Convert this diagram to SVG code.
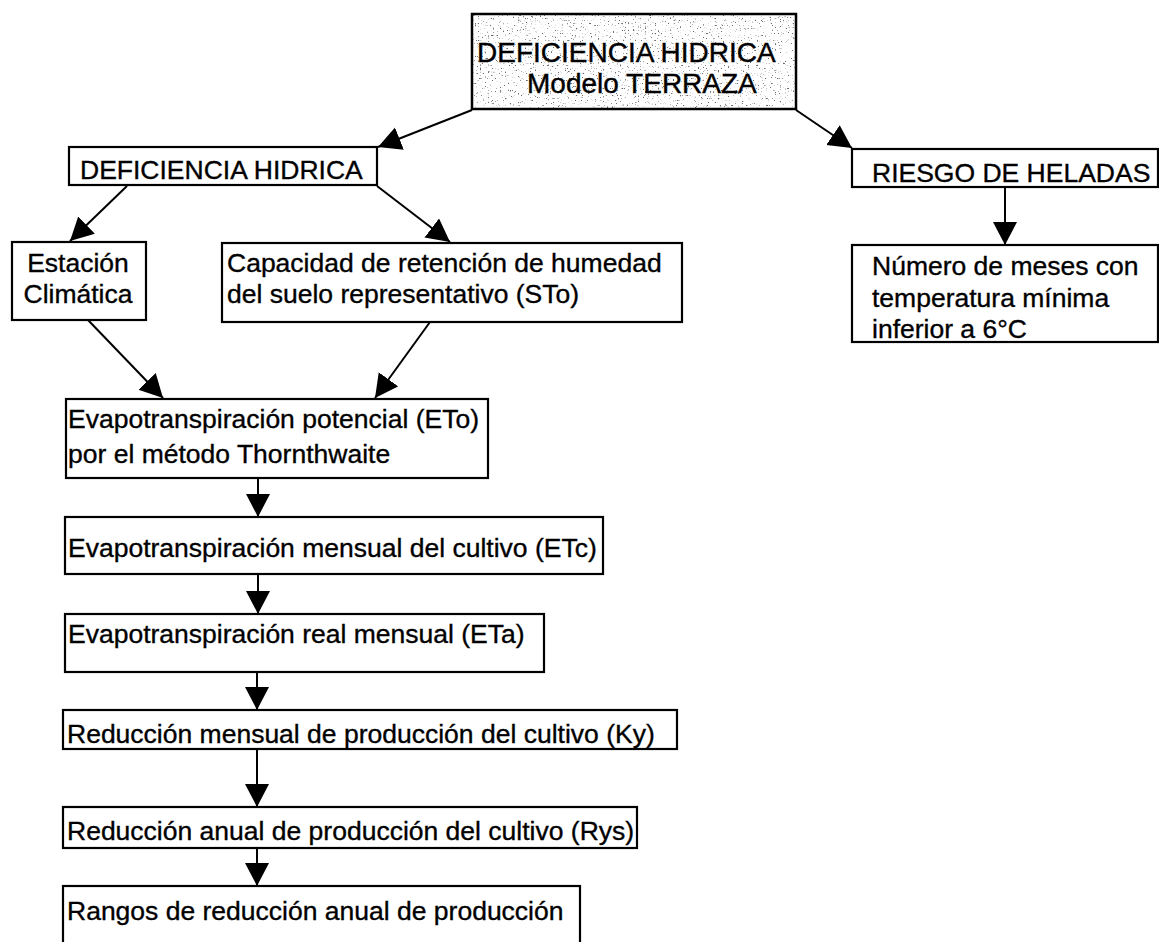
<svg xmlns="http://www.w3.org/2000/svg" width="1159" height="942" viewBox="0 0 1159 942">
  <style>
    .box { fill: #ffffff; stroke: #000000; stroke-width: 2.2; }
    .lbl { font-family: "Liberation Sans", Arial, sans-serif; font-size: 26.5px; fill: #000000; stroke: #000000; stroke-width: 0.35px; }
    .ttl { font-family: "Liberation Sans", Arial, sans-serif; font-size: 28px; fill: #000000; stroke: #000000; stroke-width: 0.4px; }
    .edge { stroke: #000000; stroke-width: 2; fill: none; marker-end: url(#head); }
  </style>
  <defs>
    <marker id="head" markerUnits="userSpaceOnUse" markerWidth="26" markerHeight="26" refX="23" refY="12" orient="auto">
      <path d="M0,0 L23,12 L0,24 Z" fill="#000000"/>
    </marker>
    <!-- speckled grey fill for the title box -->
    <filter id="grain" filterUnits="objectBoundingBox" x="0" y="0" width="1" height="1">
      <feTurbulence type="fractalNoise" baseFrequency="0.6" numOctaves="2" seed="11" result="noise"/>
      <feColorMatrix in="noise" type="matrix" values="0 0 0 0 0.15  0 0 0 0 0.15  0 0 0 0 0.15  8 0 0 0 -5.1" result="specks"/>
      <feComposite in="specks" in2="SourceGraphic" operator="over"/>
    </filter>
  </defs>

  <rect width="1159" height="942" fill="#ffffff"/>

  <!-- connectors -->
  <g id="connectors">
    <line class="edge" x1="472" y1="110" x2="378" y2="147"/>
    <line class="edge" x1="796" y1="110" x2="852" y2="148"/>
    <line class="edge" x1="127" y1="186" x2="70" y2="241"/>
    <line class="edge" x1="377" y1="186" x2="450" y2="242"/>
    <line class="edge" x1="88" y1="320" x2="163" y2="398"/>
    <line class="edge" x1="430" y1="322" x2="375" y2="398"/>
    <line class="edge" x1="1005" y1="187" x2="1005" y2="245"/>
    <line class="edge" x1="258" y1="478" x2="258" y2="517"/>
    <line class="edge" x1="258" y1="574" x2="258" y2="614"/>
    <line class="edge" x1="257" y1="672" x2="257" y2="710"/>
    <line class="edge" x1="257" y1="749" x2="257" y2="807"/>
    <line class="edge" x1="257" y1="848" x2="257" y2="886"/>
  </g>

  <!-- title -->
  <g id="n-title">
    <rect x="472" y="14" width="324" height="95" fill="#ffffff" filter="url(#grain)"/>
    <rect x="472" y="14" width="324" height="95" fill="none" stroke="#000000" stroke-width="2.5"/>
    <text class="ttl" x="477" y="62">DEFICIENCIA HIDRICA</text>
    <text class="ttl" x="527" y="93">Modelo TERRAZA</text>
  </g>

  <g id="n-deficiencia">
    <rect class="box" x="69" y="147" width="308" height="38"/>
    <text class="lbl" x="80" y="179">DEFICIENCIA HIDRICA</text>
  </g>

  <g id="n-riesgo">
    <rect class="box" x="852" y="149" width="306" height="38"/>
    <text class="lbl" x="872" y="182">RIESGO DE HELADAS</text>
  </g>

  <g id="n-estacion">
    <rect class="box" x="12" y="242" width="134" height="78"/>
    <text class="lbl" x="78" y="272" text-anchor="middle">Estación</text>
    <text class="lbl" x="78" y="303" text-anchor="middle">Climática</text>
  </g>

  <g id="n-capacidad">
    <rect class="box" x="222" y="243" width="460" height="79"/>
    <text class="lbl" x="227" y="272">Capacidad de retención de humedad</text>
    <text class="lbl" x="227" y="303">del suelo representativo (STo)</text>
  </g>

  <g id="n-meses">
    <rect class="box" x="852" y="245" width="306" height="97"/>
    <text class="lbl" x="872" y="275">Número de meses con</text>
    <text class="lbl" x="872" y="307">temperatura mínima</text>
    <text class="lbl" x="872" y="338">inferior a 6°C</text>
  </g>

  <g id="n-eto">
    <rect class="box" x="66" y="399" width="422" height="79"/>
    <text class="lbl" x="68" y="428">Evapotranspiración potencial (ETo)</text>
    <text class="lbl" x="68" y="463">por el método Thornthwaite</text>
  </g>

  <g id="n-etc">
    <rect class="box" x="65" y="517" width="538" height="57"/>
    <text class="lbl" x="68" y="557">Evapotranspiración mensual del cultivo (ETc)</text>
  </g>

  <g id="n-eta">
    <rect class="box" x="65" y="614" width="479" height="58"/>
    <text class="lbl" x="68" y="643">Evapotranspiración real mensual (ETa)</text>
  </g>

  <g id="n-ky">
    <rect class="box" x="63" y="710" width="614" height="39"/>
    <text class="lbl" x="67" y="743">Reducción mensual de producción del cultivo (Ky)</text>
  </g>

  <g id="n-rys">
    <rect class="box" x="63" y="807" width="574" height="41"/>
    <text class="lbl" x="67" y="840">Reducción anual de producción del cultivo (Rys)</text>
  </g>

  <g id="n-rangos">
    <rect class="box" x="63" y="886" width="517" height="60"/>
    <text class="lbl" x="67" y="920">Rangos de reducción anual de producción</text>
  </g>
</svg>
